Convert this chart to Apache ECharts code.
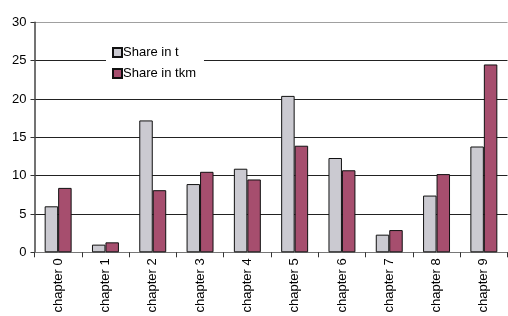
<!DOCTYPE html>
<html>
<head>
<meta charset="utf-8">
<script src="https://cdn.jsdelivr.net/npm/echarts@6/dist/echarts.min.js"></script>
<style>
    html, body { margin: 0; padding: 0; background: #fff; }
    #chart { width: 508px; height: 316px; }
</style>
</head>
<body>
<div id="chart"></div>
<script>
var categories = ['chapter 0', 'chapter 1', 'chapter 2', 'chapter 3', 'chapter 4',
                  'chapter 5', 'chapter 6', 'chapter 7', 'chapter 8', 'chapter 9'];
var shareT = [6.0, 1.0, 17.2, 8.9, 10.9, 20.4, 12.3, 2.3, 7.4, 13.8];
var shareTkm = [8.4, 1.3, 8.1, 10.5, 9.5, 13.9, 10.7, 2.9, 10.2, 24.5];
var seriesNames = ['Share in t', 'Share in tkm'];

var chart = echarts.init(document.getElementById('chart'));

// 网格线：顶部一条是浅灰色的边框
var gridColors = ['#222', '#222', '#222', '#222', '#222', '#222', '#a0a0a0'];

var option = {
    animation: false,
    textStyle: { fontFamily: 'Liberation Sans, Arial, sans-serif' },
    grid: {
        left: 34.5,
        right: 0.5,
        top: 22.3,
        bottom: 63.7,
        containLabel: false
    },
    legend: {
        orient: 'vertical',
        left: 106,
        top: 44,
        padding: [2, 8, 2, 6],
        itemWidth: 9,
        itemHeight: 9,
        itemGap: 8,
        icon: 'rect',
        backgroundColor: '#fff',
        textStyle: { fontSize: 13, color: '#000', padding: [0, 0, 0, -4] },
        data: seriesNames
    },
    xAxis: {
        type: 'category',
        data: categories,
        axisLine: { lineStyle: { color: '#777', width: 1 } },
        axisTick: { show: true, length: 5, lineStyle: { color: '#333' } },
        axisLabel: {
            interval: 0,
            rotate: 90,
            fontSize: 13,
            color: '#000',
            margin: 6
        }
    },
    yAxis: {
        type: 'value',
        min: 0,
        max: 30,
        interval: 5,
        axisLine: { show: true, lineStyle: { color: '#444', width: 1.5 } },
        axisTick: { show: true, length: 4, lineStyle: { color: '#333' } },
        axisLabel: { fontSize: 13, color: '#000', margin: 8 },
        splitLine: { show: true, lineStyle: { color: gridColors, width: 1 } }
    },
    series: [
        {
            name: seriesNames[0],
            type: 'bar',
            data: shareT,
            barGap: '0%',
            barCategoryGap: '43%',
            itemStyle: { color: '#cbcad1', borderColor: '#111', borderWidth: 1 }
        },
        {
            name: seriesNames[1],
            type: 'bar',
            data: shareTkm,
            barGap: '0%',
            barCategoryGap: '43%',
            itemStyle: { color: '#a64e6e', borderColor: '#111', borderWidth: 1 }
        }
    ]
};
chart.setOption(option);
</script>
</body>
</html>
